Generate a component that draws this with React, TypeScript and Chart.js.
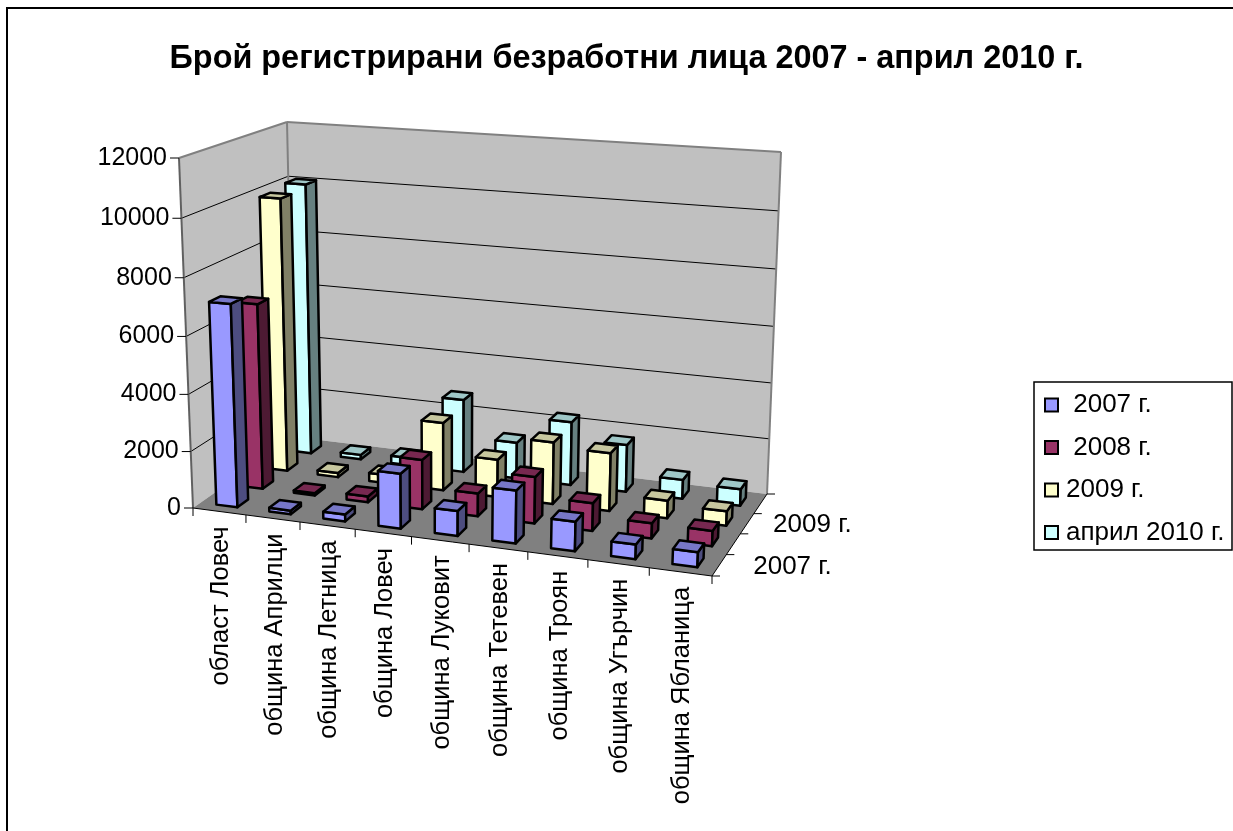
import React, { useEffect, useRef } from "react";
import { Chart, registerables } from "chart.js";

Chart.register(...registerables);

const titleText = "Брой регистрирани безработни лица 2007 - април 2010 г.";
const categories = [
  "област Ловеч",
  "община Априлци",
  "община Летница",
  "община Ловеч",
  "община Луковит",
  "община Тетевен",
  "община Троян",
  "община Угърчин",
  "община Ябланица",
];
const values2007 = [7100, 130, 240, 1900, 860, 1800, 1000, 490, 500];
const values2008 = [6620, 80, 210, 1750, 800, 1620, 960, 520, 520];
const values2009 = [9920, 150, 300, 2450, 1350, 2200, 2050, 620, 500];
const valuesApr2010 = [10050, 170, 280, 2680, 1320, 2300, 1700, 680, 590];
const seriesNames = [" 2007 г.", " 2008 г.", "2009 г.", "април 2010 г."];
const depthTickLabels = ["2007 г.", "", "2009 г.", ""];
const valueMax = 12000;
const valueStep = 2000;

const seriesColors = ["#9999FF", "#993366", "#FFFFCC", "#CCFFFF"];

type Pt = { x: number; y: number };
// corners of the drawn box in the picture
const B00: Pt = { x: 193, y: 508 };
const B10: Pt = { x: 712, y: 576 };
const B01: Pt = { x: 294, y: 437 };
const B11: Pt = { x: 767, y: 494 };
const T00: Pt = { x: 179, y: 158 };
const T10: Pt = { x: 728, y: 196 };
const T01: Pt = { x: 287, y: 122 };
const T11: Pt = { x: 781, y: 152 };

const warpU = (u: number) => u / (u + (1 - u) * 1.1);
const warpW = (w: number) => w / (w + (1 - w) * 0.945);
const warpH = (h: number) => h / (h + (1 - h) * 1.04);
const bil = (a: Pt, b: Pt, c: Pt, d: Pt, u: number, w: number): Pt => ({
  x: (1 - u) * (1 - w) * a.x + u * (1 - w) * b.x + (1 - u) * w * c.x + u * w * d.x,
  y: (1 - u) * (1 - w) * a.y + u * (1 - w) * b.y + (1 - u) * w * c.y + u * w * d.y,
});
const project = (u: number, w: number, h: number): Pt => {
  const U = warpU(u);
  const W = warpW(w);
  const H = warpH(h);
  const lo = bil(B00, B10, B01, B11, U, W);
  const hi = bil(T00, T10, T01, T11, U, W);
  return { x: lo.x + (hi.x - lo.x) * H, y: lo.y + (hi.y - lo.y) * H };
};

const shade = (hex: string, f: number) => {
  const n = parseInt(hex.slice(1), 16);
  const c = [(n >> 16) & 255, (n >> 8) & 255, n & 255].map((v) => Math.round(v * f));
  return `rgb(${c[0]},${c[1]},${c[2]})`;
};

const poly = (ctx: CanvasRenderingContext2D, pts: Pt[], fill?: string, stroke?: string, lw = 1) => {
  ctx.beginPath();
  pts.forEach((p, i) => (i ? ctx.lineTo(p.x, p.y) : ctx.moveTo(p.x, p.y)));
  ctx.closePath();
  if (fill) {
    ctx.fillStyle = fill;
    ctx.fill();
  }
  if (stroke) {
    ctx.strokeStyle = stroke;
    ctx.lineWidth = lw;
    ctx.stroke();
  }
};
const seg = (ctx: CanvasRenderingContext2D, a: Pt, b: Pt, stroke: string, lw: number) => {
  ctx.beginPath();
  ctx.moveTo(a.x, a.y);
  ctx.lineTo(b.x, b.y);
  ctx.strokeStyle = stroke;
  ctx.lineWidth = lw;
  ctx.stroke();
};

const FAMILY = "'Liberation Sans', Arial, sans-serif";
const BAR_W = 0.4;
const BAR_D = 0.42;
const LEGEND_FRAME = { left: 1034, top: 382, right: 1232, bottom: 550 };
const LEGEND_PADDING = 16.5;

const perspectivePlugin = {
  id: "perspective3d",
  afterLayout(chart: any) {
    const lg = chart.legend;
    if (lg) {
      lg.left = 1045 - LEGEND_PADDING;
      lg.right = 1232;
      lg.top = 392 - LEGEND_PADDING;
      lg.bottom = 620;
    }
  },
  beforeDraw(chart: any) {
    const ctx: CanvasRenderingContext2D = chart.ctx;
    ctx.save();
    ctx.fillStyle = "#fff";
    ctx.fillRect(0, 0, chart.width, chart.height);
    seg(ctx, { x: 7, y: 8 }, { x: chart.width, y: 8 }, "#000", 2);
    seg(ctx, { x: 7, y: 7 }, { x: 7, y: chart.height }, "#000", 2);
    const f = LEGEND_FRAME;
    ctx.strokeStyle = "#000";
    ctx.lineWidth = 1.5;
    ctx.strokeRect(f.left, f.top, f.right - f.left, f.bottom - f.top);
    ctx.restore();
  },
  beforeDatasetsDraw(chart: any) {
    const ctx: CanvasRenderingContext2D = chart.ctx;
    const xS = chart.scales.x;
    const yS = chart.scales.y;
    const zS = chart.scales.depth;
    const uOf = (v: number) => (xS.getPixelForValue(v) - xS.left) / xS.width;
    const wOf = (v: number) => (zS.getPixelForValue(v) - zS.left) / zS.width;
    const hOf = (v: number) => (yS.bottom - yS.getPixelForValue(v)) / yS.height;
    const nCat = chart.data.labels.length;
    const nSer = chart.data.datasets.length;

    ctx.save();
    ctx.lineJoin = "round";
    ctx.lineCap = "butt";
    // walls and floor
    poly(ctx, [T00, T01, B01, B00], "#C0C0C0");
    poly(ctx, [T01, T11, B11, B01], "#C0C0C0");
    poly(ctx, [B00, B10, B11, B01], "#808080");
    // gridlines
    yS.ticks.forEach((t: any) => {
      const h = hOf(t.value);
      if (h > 0 && h < 1) {
        seg(ctx, project(0, 0, h), project(0, 1, h), "#000", 1);
        seg(ctx, project(0, 1, h), project(1, 1, h), "#000", 1);
      }
    });
    // wall edges
    seg(ctx, T00, T01, "#808080", 2);
    seg(ctx, T01, T11, "#808080", 2);
    seg(ctx, T11, B11, "#808080", 2);
    seg(ctx, T01, B01, "#808080", 2);
    seg(ctx, T00, B00, "#606060", 2);
    // axis lines
    seg(ctx, B00, B10, "#000", 1);
    seg(ctx, B10, B11, "#000", 1);

    // value axis
    ctx.font = `25px ${FAMILY}`;
    ctx.fillStyle = "#000";
    ctx.textAlign = "right";
    ctx.textBaseline = "middle";
    yS.ticks.forEach((t: any) => {
      const p = project(0, 0, hOf(t.value));
      seg(ctx, { x: p.x - 9, y: p.y }, p, "#000", 1);
      ctx.fillText(String(t.label), p.x - 12, p.y);
    });
    // category axis
    for (let i = 0; i <= nCat; i++) {
      const p = project(i / nCat, 0, 0);
      seg(ctx, p, { x: p.x, y: p.y + 8 }, "#000", 1);
    }
    ctx.font = `25.5px ${FAMILY}`;
    xS.ticks.forEach((t: any, i: number) => {
      const p = project(uOf(i), 0, 0);
      ctx.save();
      ctx.translate(p.x + 2, p.y + 15);
      ctx.rotate(-Math.PI / 2);
      ctx.textAlign = "right";
      ctx.textBaseline = "middle";
      ctx.fillText(String(t.label), 0, 0);
      ctx.restore();
    });
    // depth axis
    for (let s = 0; s <= nSer; s++) {
      const p = project(1, s / nSer, 0);
      seg(ctx, p, { x: p.x + 8, y: p.y }, "#000", 1);
    }
    ctx.font = `26px ${FAMILY}`;
    zS.ticks.forEach((t: any, s: number) => {
      if (!t.label) return;
      const w = wOf(s);
      const p = project(1, w, 0);
      ctx.textAlign = "left";
      ctx.textBaseline = "middle";
      ctx.fillText(String(t.label), p.x + 36 - 16 * w, p.y + 1.5);
    });

    // columns, back row first
    const halfU = (BAR_W * 0.5) / nCat;
    const halfW = (BAR_D * 0.5) / nSer;
    for (let s = nSer - 1; s >= 0; s--) {
      const ds = chart.data.datasets[s];
      const w = wOf(s);
      for (let i = 0; i < nCat; i++) {
        const u = uOf(i);
        const h = hOf(ds.data[i]);
        const u0 = u - halfU;
        const u1 = u + halfU;
        const w0 = w - halfW;
        const w1 = w + halfW;
        const col = ds.backgroundColor;
        const lw = 2.5;
        poly(ctx, [project(u0, w0, 0), project(u1, w0, 0), project(u1, w0, h), project(u0, w0, h)], col, "#000", lw);
        poly(ctx, [project(u1, w0, 0), project(u1, w1, 0), project(u1, w1, h), project(u1, w0, h)], shade(col, 0.5), "#000", lw);
        poly(ctx, [project(u0, w0, h), project(u1, w0, h), project(u1, w1, h), project(u0, w1, h)], shade(col, 0.78), "#000", lw);
      }
    }
    ctx.restore();
    return false;
  },
  afterDraw(chart: any) {
    // the legend's markers are a little larger than the gap the legend leaves before its text
    const ctx: CanvasRenderingContext2D = chart.ctx;
    const lg = chart.legend;
    ctx.save();
    lg.legendItems.forEach((item: any, i: number) => {
      const rowH = 26 + LEGEND_PADDING;
      const x = lg.left + LEGEND_PADDING;
      const y = lg.top + LEGEND_PADDING + rowH * i + 13 - 6.5;
      ctx.fillStyle = item.fillStyle;
      ctx.strokeStyle = "#000";
      ctx.lineWidth = 2;
      ctx.fillRect(x, y, 13, 13);
      ctx.strokeRect(x, y, 13, 13);
    });
    ctx.restore();
  },
};

export default function App() {
  const ref = useRef<HTMLCanvasElement>(null);
  useEffect(() => {
    document.body.style.margin = "0";
    document.body.style.overflow = "hidden";
    const series = [values2007, values2008, values2009, valuesApr2010];
    const chart = new Chart(ref.current as HTMLCanvasElement, {
      type: "bar",
      data: {
        labels: categories,
        datasets: series.map((data, i) => ({
          label: seriesNames[i],
          data,
          backgroundColor: seriesColors[i],
          borderColor: "#000",
          borderWidth: 2,
        })),
      },
      options: {
        responsive: false,
        animation: false,
        devicePixelRatio: 1,
        layout: { padding: { left: 20 } },
        scales: {
          x: { display: false, ticks: { autoSkip: false } },
          y: {
            display: false,
            min: 0,
            max: valueMax,
            ticks: { stepSize: valueStep, callback: (v: any) => String(v) },
          },
          depth: {
            type: "category",
            axis: "x",
            position: "bottom",
            labels: depthTickLabels,
            offset: true,
            display: false,
            ticks: { autoSkip: false },
          },
        },
        plugins: {
          title: {
            display: true,
            text: titleText,
            color: "#000",
            font: { family: FAMILY, size: 32.4, weight: "bold", lineHeight: 1.2 },
            padding: { top: 40, bottom: 20 },
          },
          legend: {
            display: true,
            position: "right",
            align: "start",
            labels: {
              color: "#000",
              boxWidth: 8,
              boxHeight: 8,
              padding: LEGEND_PADDING,
              font: { family: FAMILY, size: 26, lineHeight: 1.2 },
            },
          },
          tooltip: { enabled: false },
        },
      },
      plugins: [perspectivePlugin],
    } as any);
    return () => chart.destroy();
  }, []);
  return (
    <div style={{ position: "fixed", left: 0, top: 0, width: 1233, height: 831 }}>
      <canvas ref={ref} width={1233} height={831} style={{ display: "block" }} />
    </div>
  );
}
